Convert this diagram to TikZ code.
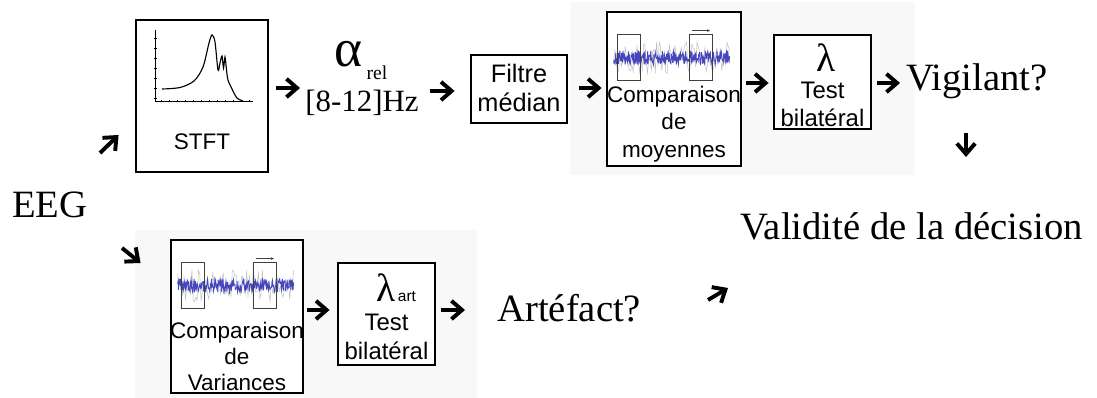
\documentclass[tikz,border=0pt]{standalone}
\usepackage{fontspec}
\setmainfont{Liberation Serif}
\setsansfont{Liberation Sans}
\usepackage{xcolor}
\usetikzlibrary{arrows.meta, positioning, calc}

\begin{document}
\begin{tikzpicture}[x=0.025cm, y=-0.025cm,
    bloc/.style={draw, line width=2pt, fill=white, inner sep=0pt},
    fleche/.style={line width=2.8pt, -{Straight Barb[length=7.5pt, width=13pt]}},
    boxtxt/.style={font=\sffamily\fontsize{16}{19.5}\selectfont, align=center, inner sep=0pt},
    bigtxt/.style={font=\fontsize{27.5}{32}\selectfont, inner sep=0pt},
    sigimg/.pic={
        \draw[gray!50, line width=0.35pt] plot[domain=8:124, samples=90] (\x, {47+16*rand});
        \draw[sigblue, line width=0.6pt] plot[domain=8:124, samples=260] (\x, {47+7*rand});
        \draw[black!75, line width=0.6pt] (12,24) rectangle (35,70) (84,24) rectangle (107,70);
        \draw[black!75, line width=0.5pt, -{Latex[length=2.5pt]}] (86,20) -- (105,20);
    }]
    % couleurs
    \definecolor{sigblue}{RGB}{70, 70, 190}
    \definecolor{fond}{RGB}{248, 248, 248}
    \pgfmathsetseed{7}

    \useasboundingbox (0,0) rectangle (1097,398);

    % fonds gris clair (captures d'ecran)
    \fill[fond] (570,2) rectangle (915,175);
    \fill[fond] (135,230) rectangle (477,398);

    % 1. Chaine du haut
    \node[bigtxt, anchor=base west] (eeg) at (12,218) {EEG};

    \node[bloc, minimum width=3.3cm, minimum height=3.8cm] (stft) at (202,96) {};
    % petit spectre dans le bloc STFT
    \draw[line width=0.7pt] (155,30) -- (155,101) -- (253,101);
    \foreach \t in {161,169,...,249} \draw[line width=0.4pt] (\t,100) -- (\t,102.5);
    \foreach \t in {38,48,...,98} \draw[line width=0.4pt] (154,\t) -- (156.5,\t);
    \draw[line width=0.8pt] plot[smooth, tension=0.5] coordinates {(162,89) (180,87.5) (194,81) (203,67) (209,43) (212,35) (215,42) (218,70) (220,63) (222,56) (223.5,68) (225,57) (226.5,70) (228,80) (232,89) (237,98) (243,101)};
    \node[boxtxt] (stftlbl) at (202,141.5) {STFT};

    \node[font=\fontsize{38}{38}\selectfont, inner sep=0pt, anchor=base] (alpha) at (348,67) {α};
    \node[font=\fontsize{14}{14}\selectfont, inner sep=0pt, anchor=base] (rel) at (377,80) {rel};
    \node[font=\fontsize{22}{26}\selectfont, inner sep=0pt, anchor=base] (band) at (362,112) {[8-12]Hz};

    \node[bloc, minimum width=2.4cm, minimum height=1.7cm] (filtre) at (519,89) {};
    \node[boxtxt, font=\sffamily\fontsize{18}{20}\selectfont] (filtrelbl) at (519,88) {Filtre\\médian};

    \node[bloc, minimum width=3.35cm, minimum height=3.85cm] (moy) at (674,89) {};
    \pic at (moy.north west) {sigimg};
    \node[boxtxt] (moylbl) at (674,124) {Comparaison\\de\\moyennes};

    \node[bloc, minimum width=2.425cm, minimum height=2.35cm] (test1) at (822.5,82) {};
    \node[font=\fontsize{28}{28}\selectfont, inner sep=0pt, anchor=base] (lambda1) at (826,72) {λ};
    \node[boxtxt, font=\sffamily\fontsize{17}{20}\selectfont] (test1lbl) at (822.5,104) {Test\\bilatéral};

    \node[bigtxt, anchor=base west] (vig) at (906,91) {Vigilant?};
    \node[bigtxt, anchor=base west] (valid) at (740,240) {Validité de la décision};

    % 2. Chaine du bas
    \node[bloc, minimum width=3.3cm, minimum height=3.825cm] (var) at (237,316.5) {};
    \pic at (var.north west) {sigimg};
    \node[boxtxt, font=\sffamily\fontsize{16}{18.5}\selectfont] (varlbl) at (237,356) {Comparaison\\de\\Variances};

    \node[bloc, minimum width=2.425cm, minimum height=2.55cm] (test2) at (386.5,314) {};
    \node[font=\fontsize{28}{28}\selectfont, inner sep=0pt, anchor=base] (lambda2) at (386,302) {λ};
    \node[font=\sffamily\fontsize{11}{11}\selectfont, inner sep=0pt, anchor=base] (artidx) at (407,302) {art};
    \node[boxtxt, font=\sffamily\fontsize{17}{21}\selectfont] (test2lbl) at (386.5,337) {Test\\bilatéral};

    \node[bigtxt, anchor=base west] (art) at (497,322) {Artéfact?};

    % 3. Fleches
    \draw[fleche] ([shift={(88,-65)}]eeg.base west) -- ([shift={(-16,39)}]stft.west);
    \draw[fleche] ([shift={(110,30)}]eeg.base west) -- ([shift={(-29,-53.5)}]var.west);
    \draw[fleche] ([shift={(7,-8)}]stft.east) -- ([shift={(-5,-24)}]band.base west);
    \draw[fleche] ([shift={(11,-21)}]band.base east) -- ([shift={(-15,2)}]filtre.west);
    \draw[fleche] ([shift={(11,-1)}]filtre.east) -- ([shift={(-4,-1)}]moy.west);
    \draw[fleche] ([shift={(4,-6)}]moy.east) -- ([shift={(-4,1)}]test1.west);
    \draw[fleche] ([shift={(5,1)}]test1.east) -- ([shift={(-6,-8)}]vig.base west);
    \draw[fleche] ([shift={(60,42)}]vig.base west) -- ([shift={(226,-83)}]valid.base west);
    \draw[fleche] ([shift={(3,-6.5)}]var.east) -- ([shift={(-7,-4)}]test2.west);
    \draw[fleche] ([shift={(5,-4)}]test2.east) -- ([shift={(-32,-12)}]art.base west);
    \draw[fleche] ([shift={(211,-22)}]art.base west) -- ([shift={(-12,48)}]valid.base west);
\end{tikzpicture}
\end{document}
